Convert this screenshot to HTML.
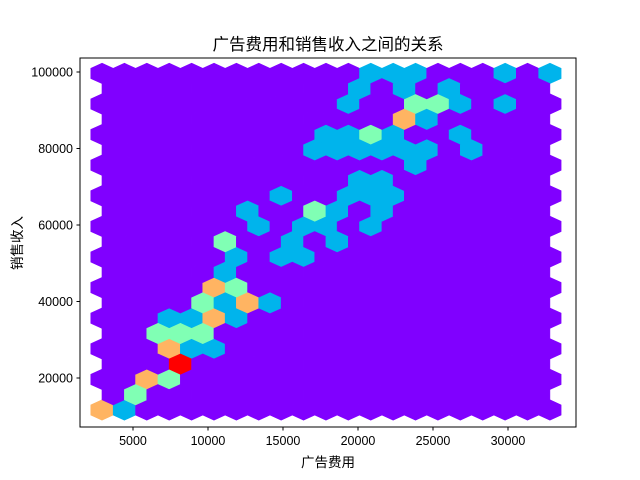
<!DOCTYPE html>
<html><head><meta charset="utf-8"><style>
html,body{margin:0;padding:0;background:#fff;width:640px;height:480px;overflow:hidden}
svg text{font-family:"Liberation Sans","Noto Sans CJK SC",sans-serif;fill:#000}
</style></head><body>
<svg id="chart" width="640" height="480" viewBox="0 0 640 480" xmlns="http://www.w3.org/2000/svg">
<rect width="640" height="480" fill="#fff"/>
<g id="hexes"></g>
<rect x="80" y="58" width="496" height="369" fill="none" stroke="#000" stroke-width="1"/>
<g id="xticks"></g>
<g id="yticks"></g>
<text x="328" y="50" text-anchor="middle" font-size="16.5" style="font-family:'Noto Sans CJK SC',sans-serif">广告费用和销售收入之间的关系</text>
<text x="328" y="467" text-anchor="middle" font-size="13.5" style="font-family:'Noto Sans CJK SC',sans-serif">广告费用</text>
<text transform="translate(22,243) rotate(-90)" text-anchor="middle" font-size="13.5" style="font-family:'Noto Sans CJK SC',sans-serif">销售收入</text>
</svg>
<script>
// hexbin grid (data units)
const gridXmin = 2933, gridSx = 1493, gridYmin = 11634, gridSy = 8000, gridNx = 20, gridNy = 11;
// non-empty bins: half-step column index, half-step row index, count
const binCol = [0,2,3,4,6,7,6,8,10,5,7,9,6,8,10,12,9,11,13,15,10,12,11,12,16,18,11,17,21,14,18,20,24,13,19,21,25,16,22,24,26,23,25,28,19,21,23,25,27,29,33,20,22,24,26,32,27,29,22,28,30,32,36,23,27,31,24,26,28,36,40];
const binRow = [0,0,1,2,2,3,4,4,4,5,5,5,6,6,6,6,7,7,7,7,8,8,9,10,10,10,11,11,11,12,12,12,12,13,13,13,13,14,14,14,14,15,15,16,17,17,17,17,17,17,17,18,18,18,18,18,19,19,20,20,20,20,20,21,21,21,22,22,22,22,22];
const binCount = [3,1,2,3,2,4,3,1,1,2,2,2,1,1,3,1,2,1,3,1,3,2,1,1,1,1,2,1,1,1,1,1,1,1,2,1,1,1,1,1,1,1,1,1,1,1,1,1,1,1,1,1,1,2,1,1,3,1,1,2,2,1,1,1,1,1,1,1,1,1,1];
const maxCount = 4;
const xTicks = [5000,10000,15000,20000,25000,30000];
const yTicks = [20000,40000,60000,80000,100000];

function px(x){ return 80 + (x - 1467) * 15 / 1000; }
function py(y){ return 427 - (y - 7190) * 76.5 / 20000; }
function rainbow(t){
  const r = Math.min(1, Math.abs(2*t - 0.5)), g = Math.sin(Math.PI*t), b = Math.cos(Math.PI*t/2);
  return 'rgb(' + Math.round(r*255) + ',' + Math.round(g*255) + ',' + Math.round(Math.max(0,b)*255) + ')';
}
const NS = 'http://www.w3.org/2000/svg';
const hexG = document.getElementById('hexes');
const counts = {};
for (let k = 0; k < binCol.length; k++) counts[binCol[k] + ',' + binRow[k]] = binCount[k];
function hex(c, r){
  const cx = px(gridXmin + c * gridSx / 2), cy = py(gridYmin + r * gridSy / 2);
  const hw = px(gridXmin + gridSx / 2) - px(gridXmin);
  const hh = py(gridYmin) - py(gridYmin + gridSy / 3);
  const pts = [[0,-hh],[hw,-hh/2],[hw,hh/2],[0,hh],[-hw,hh/2],[-hw,-hh/2]].map(p => (cx+p[0]).toFixed(2)+','+(cy+p[1]).toFixed(2)).join(' ');
  const n = counts[c + ',' + r] || 0;
  const col = rainbow(n / maxCount);
  const p = document.createElementNS(NS, 'polygon');
  p.setAttribute('points', pts);
  p.setAttribute('fill', col);
  p.setAttribute('stroke', col);
  p.setAttribute('stroke-width', '0.6');
  
  
  hexG.appendChild(p);
}
for (let j = 0; j <= gridNy; j++) for (let i = 0; i <= gridNx; i++) hex(2*i, 2*j);
for (let j = 0; j < gridNy; j++) for (let i = 0; i < gridNx; i++) hex(2*i+1, 2*j+1);

const xg = document.getElementById('xticks');
xTicks.forEach(v => {
  const x = px(v);
  const l = document.createElementNS(NS, 'line');
  l.setAttribute('x1', x); l.setAttribute('x2', x); l.setAttribute('y1', 427); l.setAttribute('y2', 430.5);
  l.setAttribute('stroke', '#000');
  
  
  xg.appendChild(l);
  const t = document.createElementNS(NS, 'text');
  t.setAttribute('x', x); t.setAttribute('y', 445); t.setAttribute('text-anchor', 'middle'); t.setAttribute('font-size', '12.5');
  t.textContent = v;
  
  
  xg.appendChild(t);
});
const yg = document.getElementById('yticks');
yTicks.forEach(v => {
  const y = py(v);
  const l = document.createElementNS(NS, 'line');
  l.setAttribute('x1', 76.5); l.setAttribute('x2', 80); l.setAttribute('y1', y); l.setAttribute('y2', y);
  l.setAttribute('stroke', '#000');
  
  
  yg.appendChild(l);
  const t = document.createElementNS(NS, 'text');
  t.setAttribute('x', 73); t.setAttribute('y', y + 4.5); t.setAttribute('text-anchor', 'end'); t.setAttribute('font-size', '12.5');
  t.textContent = v;
  
  
  yg.appendChild(t);
});
</script>
</body></html>
